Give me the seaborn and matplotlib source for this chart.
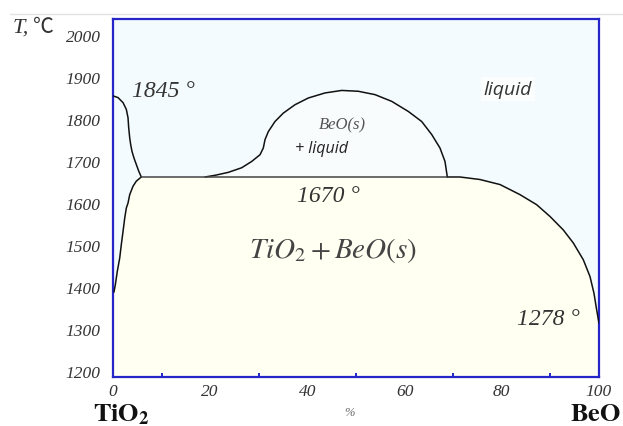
import numpy as np
import pandas as pd
import matplotlib
matplotlib.use("Agg")
import matplotlib.pyplot as plt
import seaborn as sns
from matplotlib.lines import Line2D

# ---- data ----
left_liq_x = [0.0, 1.03, 2.06, 2.74, 3.09, 3.23, 3.44, 3.64, 3.91, 4.32, 4.79, 5.29, 5.82]
left_liq_t = [1854, 1850, 1838, 1822, 1802, 1778, 1754, 1738, 1722, 1706, 1691, 1675, 1661]

left_sol_x = [5.82, 4.79, 4.12, 3.44, 3.09, 2.74, 2.41, 2.06, 1.71, 1.38, 0.88, 0.47, 0.2]
left_sol_t = [1661, 1651, 1639, 1619, 1599, 1587, 1563, 1531, 1500, 1468, 1436, 1404, 1387]

hump_x = [18.93, 20.99, 23.72, 26.48, 28.54, 30.25, 30.93, 31.28, 31.96, 33.33, 35.04,
          37.45, 40.19, 43.62, 47.06, 50.47, 53.91, 57.35, 60.76, 63.52, 65.58,
          67.28, 68.31, 68.79]
hump_t = [1661, 1665, 1672, 1683, 1698, 1714, 1730, 1750, 1769, 1793, 1813,
          1833, 1849, 1861, 1867, 1865, 1857, 1841, 1817, 1793, 1762,
          1730, 1698, 1661]

right_x = [68.79, 71.40, 75.51, 79.63, 83.74, 87.18, 89.92, 92.65, 94.71, 96.77,
           98.15, 98.97, 99.53, 100.0]
right_t = [1661, 1661, 1655, 1643, 1619, 1595, 1567, 1535, 1504, 1464,
           1424, 1384, 1344, 1313]

eut_x = [5.82, 68.79]
eut_t = [1661, 1661]

x_ticks = [0, 20, 40, 60, 80, 100]
y_ticks = [1200, 1300, 1400, 1500, 1600, 1700, 1800, 1900, 2000]

temp_labels = ["1845 °", "1670 °", "1278 °"]
temp_label_x = [3.9, 37.9, 83.1]
temp_label_t = [1868, 1618, 1325]

# ---- styling ----
sns.set_theme(style="white")
plt.rcParams["font.family"] = ["Liberation Serif", "DejaVu Serif"]
plt.rcParams["mathtext.fontset"] = "stix"

BLUE_BG = "#f3fbfe"
CREAM = "#fffff2"
HUMP_BG = "#f8fcfc"
SPINE = "#2525c8"
TXT = "#333333"

fig = plt.figure(figsize=(6.23, 4.27), dpi=100)
ax = fig.add_axes([113 / 623, 49 / 427, 486 / 623, 358 / 427])
ax.set_facecolor(BLUE_BG)
ax.set_xlim(0, 100)
ax.set_ylim(1185, 2037)

# fills
poly_x = [0.0] + list(reversed(left_sol_x)) + eut_x[1:] + right_x[1:] + [100.0, 0.0]
poly_t = [1185] + list(reversed(left_sol_t)) + eut_t[1:] + right_t[1:] + [1185, 1185]
poly_x = [0.0] + poly_x
poly_t = [1387] + poly_t
ax.fill(poly_x, poly_t, color=CREAM, zorder=0.5, lw=0)
ax.fill(hump_x, hump_t, color=HUMP_BG, zorder=0.5, lw=0)

# curves
curves = [
    (left_liq_x, left_liq_t, "#111111"),
    (left_sol_x, left_sol_t, "#111111"),
    (hump_x, hump_t, "#111111"),
    (right_x, right_t, "#111111"),
    (eut_x, eut_t, "#444444"),
]
for xs, ts, c in curves:
    df = pd.DataFrame({"x": xs, "t": ts})
    sns.lineplot(data=df, x="x", y="t", sort=False, estimator=None,
                 color=c, lw=1.1, ax=ax, zorder=3)

ax.set_xlabel("")
ax.set_ylabel("")

# spines and ticks
for s in ax.spines.values():
    s.set_visible(True)
    s.set_color(SPINE)
    s.set_linewidth(1.6)
ax.set_xticks(x_ticks)
ax.set_xticks([10, 30, 50, 70, 90], minor=True)
ax.set_yticks(y_ticks)
ax.tick_params(axis="both", which="major", direction="in", length=6, width=1.6,
               color=SPINE, labelcolor=TXT, labelsize=12.5)
ax.tick_params(axis="x", which="minor", direction="in", length=3, width=1.4,
               color=SPINE, bottom=True)
ax.tick_params(axis="x", which="major", pad=4)
ax.tick_params(axis="y", which="major", pad=9)
for lab in ax.get_xticklabels() + ax.get_yticklabels():
    lab.set_fontstyle("italic")

# text annotations
for txt, x, t in zip(temp_labels, temp_label_x, temp_label_t):
    ax.text(x, t, txt, fontsize=17, style="italic", color=TXT,
            ha="left", va="center", zorder=4)

ax.text(81.3, 1870, "liquid", fontsize=14, style="italic", color=TXT,
        family="Open Sans", ha="center", va="center", zorder=4,
        bbox=dict(facecolor="white", edgecolor="none", pad=2, alpha=0.8))
ax.text(47.1, 1787, "BeO(s)", fontsize=12, style="italic", color="#555555",
        ha="center", va="center", zorder=4)
ax.text(42.8, 1730, "+ liquid", fontsize=11.5, style="italic", color="#222222",
        family="Open Sans", ha="center", va="center", zorder=4)
ax.text(45.2, 1488, r"$TiO_2+BeO(s)$", fontsize=21, color="#444444",
        ha="center", va="center", zorder=4)

# figure level texts
fig.text(13 / 623, 1 - 28 / 427, "T,", fontsize=16, color=TXT, style="italic",
         ha="left", va="center")
fig.text(33 / 623, 1 - 27 / 427, "℃", fontsize=15, color=TXT,
         family=["Noto Sans CJK SC", "DejaVu Sans"], ha="left", va="center")
fig.text(349 / 623, 1 - 413 / 427, "%", fontsize=9, color="#666666",
         style="italic", ha="center", va="center")
fig.text(93 / 623, 1 - 421 / 427, r"$\mathbf{TiO_2}$", fontsize=19,
         color="#111111", ha="left", va="baseline")
fig.text(621 / 623, 1 - 421 / 427, r"$\mathbf{BeO}$", fontsize=19,
         color="#111111", ha="right", va="baseline")

# faint top border line
fig.add_artist(Line2D([10 / 623, 1.0], [1 - 15 / 427, 1 - 15 / 427],
                      color="#e2e2e2", lw=1, transform=fig.transFigure))

fig.savefig("out.png", dpi=100)
